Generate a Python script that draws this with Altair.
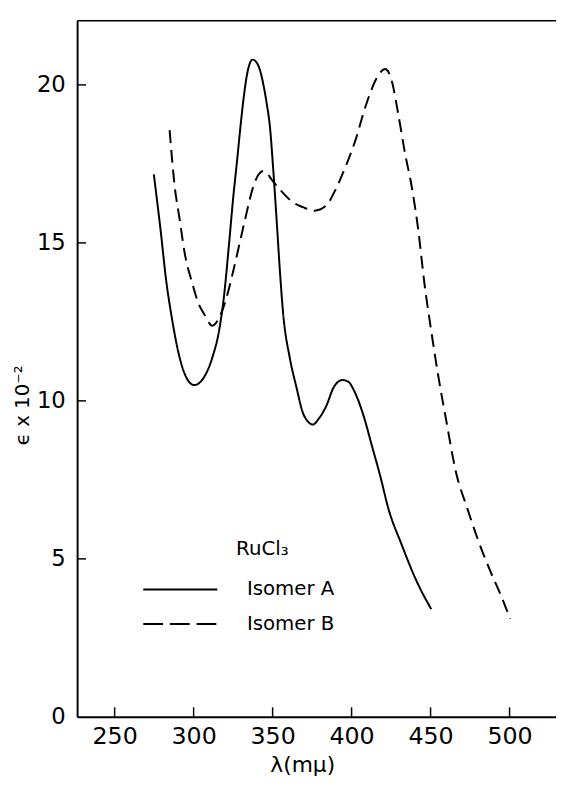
import altair as alt
import pandas as pd

# Isomer A (solid) – wavelength (mμ) and ε x 10^-2
lam_a = [274.8, 279.1, 282.7, 285.8, 291.1, 295.2, 300.4, 306.7, 311.9, 316.1, 319.2,
         322.3, 325.0, 327.5, 329.7, 331.7, 333.7, 337.3, 340.0, 342.1, 344.2, 346.3,
         348.3, 350.4, 352.5, 354.5, 356.7, 360.8, 365.0, 369.2, 372.3, 375.4, 379.4,
         383.8, 388.9, 394.2, 398.1, 401.4, 407.7, 412.9, 418.1, 423.3, 431.7, 441.1, 450.4]
eps_a = [17.17, 15.4, 13.78, 12.75, 11.38, 10.76, 10.5, 10.76, 11.38, 12.22, 13.3,
         14.9, 16.4, 17.6, 18.7, 19.6, 20.3, 20.8, 20.7, 20.45, 20.0, 19.4,
         18.68, 17.32, 15.76, 14.2, 12.75, 11.38, 10.45, 9.62, 9.35, 9.25, 9.45,
         9.82, 10.45, 10.66, 10.6, 10.34, 9.51, 8.57, 7.63, 6.59, 5.45, 4.3, 3.41]

# Isomer B (dashed)
lam_b = [284.8, 288.0, 291.1, 294.2, 299.4, 302.5, 306.7, 311.9, 316.1, 320.2, 325.5,
         331.7, 337.9, 340.9, 343.8, 346.6, 349.4, 354.5, 363.0, 369.2, 376.5, 383.8,
         390.0, 396.3, 402.5, 408.7, 415.0, 418.3, 421.3, 423.4, 425.4, 429.5, 433.8,
         438.0, 442.1, 446.2, 450.4, 454.6, 459.8, 466.1, 473.3, 479.6, 486.9, 494.2, 500.4]
eps_b = [18.57, 16.8, 15.76, 14.72, 13.68, 13.16, 12.74, 12.38, 12.63, 13.16, 14.2,
         15.55, 16.8, 17.15, 17.27, 17.2, 17.0, 16.7, 16.28, 16.13, 16.02, 16.18,
         16.7, 17.43, 18.26, 19.3, 20.13, 20.4, 20.5, 20.4, 20.13, 19.09, 17.84,
         16.8, 15.45, 13.68, 12.22, 10.87, 9.41, 7.74, 6.59, 5.66, 4.72, 3.88, 3.1]

series_names = ["Isomer A", "Isomer B"]
legend_title = "RuCl₃"
x_ticks = [250, 300, 350, 400, 450, 500]
y_ticks = [0, 5, 10, 15, 20]
y_inner_ticks = [5, 10, 15, 20]

X_MIN, X_MAX = 226.25, 529.4
Y_MIN, Y_MAX = 0, 22.03

df = pd.concat([
    pd.DataFrame({"lam": lam_a, "eps": eps_a, "series": series_names[0], "order": range(len(lam_a))}),
    pd.DataFrame({"lam": lam_b, "eps": eps_b, "series": series_names[1], "order": range(len(lam_b))}),
])

FONT = "DejaVu Sans"
CURVE_DASH = [13, 7]
xscale = alt.Scale(domain=[X_MIN, X_MAX], nice=False, zero=False)
yscale = alt.Scale(domain=[Y_MIN, Y_MAX], nice=False, zero=False)

lines = alt.Chart(df).mark_line(color="black", strokeWidth=2, interpolate="monotone").encode(
    x=alt.X("lam:Q", scale=xscale,
            axis=alt.Axis(values=x_ticks, title="λ(mμ)", tickSize=0, labelPadding=8,
                          labelFontSize=24, titleFontSize=22, titlePadding=6,
                          titleX=228, grid=False)),
    y=alt.Y("eps:Q", scale=yscale,
            axis=alt.Axis(values=y_ticks, title="ϵ x 10⁻²", tickSize=0, labelPadding=12,
                          labelFontSize=23, titleFontSize=20, titleX=-45, titleY=389,
                          grid=False)),
    strokeDash=alt.StrokeDash(
        "series:N",
        scale=alt.Scale(domain=series_names, range=[[1, 0], CURVE_DASH]),
        legend=None),
    order="order:Q",
)

xt = alt.Chart(pd.DataFrame({"t": x_ticks})).mark_rule(color="black", strokeWidth=1.5).encode(
    x=alt.X("t:Q", scale=xscale), y=alt.datum(0), y2=alt.datum(0.3))

yt = alt.Chart(pd.DataFrame({"t": y_inner_ticks})).mark_rule(color="black", strokeWidth=1.5).encode(
    y=alt.Y("t:Q", scale=yscale), x=alt.datum(X_MIN), x2=alt.datum(X_MIN + 5.6))

top = alt.Chart(pd.DataFrame({"t": [Y_MAX]})).mark_rule(color="black", strokeWidth=1.5).encode(
    y=alt.Y("t:Q", scale=yscale), x=alt.datum(X_MIN), x2=alt.datum(X_MAX))

# hand-built key (RuCl3 / Isomer A / Isomer B)
key_title = alt.Chart(pd.DataFrame({"t": [legend_title]})).mark_text(
    align="left", baseline="middle", fontSize=20, font=FONT, color="black").encode(
    text="t:N", x=alt.value(161), y=alt.value(535))

key_layers = []
key_dashes = [[1, 0], [20, 7]]
for i, name in enumerate(series_names):
    ky = 576 + 35 * i
    key_layers.append(
        alt.Chart(pd.DataFrame({"s": [name]})).mark_rule(
            color="black", strokeWidth=2, strokeDash=key_dashes[i]).encode(
            x=alt.value(67), x2=alt.value(142), y=alt.value(ky)))
    key_layers.append(
        alt.Chart(pd.DataFrame({"s": [name]})).mark_text(
            align="left", baseline="middle", fontSize=20, font=FONT, color="black").encode(
            text="s:N", x=alt.value(172), y=alt.value(ky)))

chart = alt.layer(lines, xt, yt, top, key_title, *key_layers).properties(
    width=485, height=705,
    autosize=alt.AutoSizeParams(type="none"),
    padding={"left": 70, "top": 8, "right": 0, "bottom": 57},
).configure_view(stroke=None).configure_axis(
    domainColor="black", domainWidth=2, labelColor="black", titleColor="black",
    labelFont=FONT, titleFont=FONT, titleFontWeight="normal",
)

chart.save("out.html", embed_options={"renderer": "svg", "actions": False})
